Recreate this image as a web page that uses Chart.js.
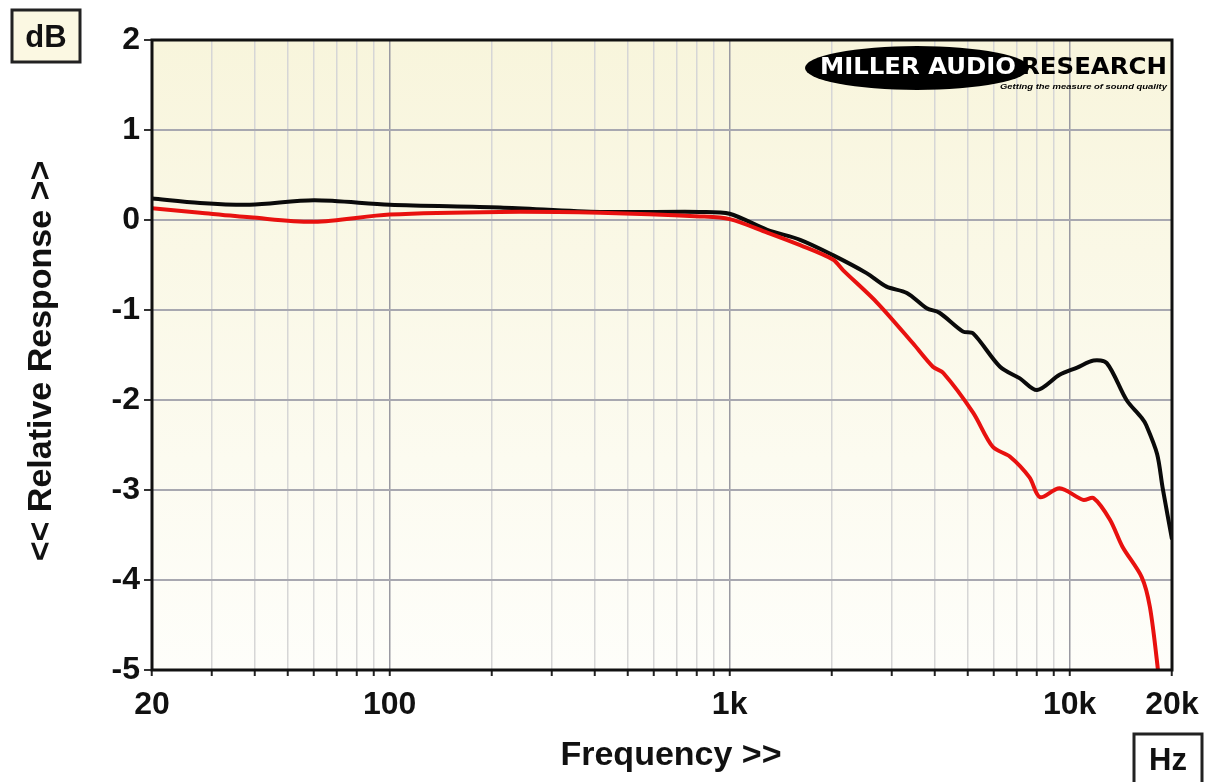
<!DOCTYPE html>
<html>
<head>
<meta charset="utf-8">
<script src="https://cdn.jsdelivr.net/npm/chart.js@4.4.1/dist/chart.umd.min.js"></script>
<style>
  html, body { margin: 0; padding: 0; background: #ffffff; }
  #wrap { width: 1209px; height: 782px; position: relative; }
</style>
</head>
<body>
<div id="wrap"><canvas id="chart" width="1209" height="782"></canvas></div>
<script>
// Frequency response data (Hz, dB)
const blackFreq = [20, 27.7, 38.8, 60, 100, 211, 416, 818, 1000, 1290, 1612, 2012, 2528, 2893, 3320, 3800, 4140, 4860, 5200, 6240, 7140, 8020, 9340, 10520, 11760, 12860, 14700, 16300, 16800, 18080, 18760, 20000];
const blackDb   = [0.24, 0.19, 0.17, 0.22, 0.17, 0.14, 0.09, 0.09, 0.07, -0.11, -0.22, -0.39, -0.59, -0.74, -0.81, -0.98, -1.03, -1.24, -1.26, -1.63, -1.76, -1.89, -1.72, -1.64, -1.56, -1.59, -2.0, -2.2, -2.28, -2.6, -2.97, -3.55];

const redFreq = [20, 27.7, 38.8, 60, 100, 211, 416, 818, 1000, 1290, 1612, 2012, 2158, 2716, 3460, 3960, 4250, 5200, 5940, 6680, 7620, 8180, 9340, 10960, 11760, 13140, 14300, 16300, 17220, 18160, 18600];
const redDb   = [0.13, 0.08, 0.03, -0.02, 0.06, 0.09, 0.08, 0.04, 0.01, -0.14, -0.28, -0.44, -0.56, -0.92, -1.37, -1.63, -1.7, -2.14, -2.52, -2.63, -2.86, -3.08, -2.98, -3.11, -3.09, -3.33, -3.63, -3.97, -4.3, -4.98, -5.4];

const xGrid = [20, 30, 40, 50, 60, 70, 80, 90, 100, 200, 300, 400, 500, 600, 700, 800, 900,
               1000, 2000, 3000, 4000, 5000, 6000, 7000, 8000, 9000, 10000, 20000];
const xLabels = { 20: '20', 100: '100', 1000: '1k', 10000: '10k', 20000: '20k' };
const majorX = [100, 1000, 10000];

const FONT = "'Liberation Sans', Arial, sans-serif";

function pts(xs, ys) {
    return xs.map((x, i) => ({ x: x, y: ys[i] }));
}

// draw text squeezed/stretched to a given width
function fitText(ctx, text, x, y, w) {
    const m = ctx.measureText(text).width;
    ctx.save();
    ctx.translate(x, y);
    ctx.scale(w / m, 1);
    ctx.fillText(text, 0, 0);
    ctx.restore();
}

// background, frame, logo and boxed labels
const decor = {
    id: 'decor',
    beforeDraw(chart) {
        const { ctx, chartArea: a } = chart;
        const g = ctx.createLinearGradient(0, a.top, 0, a.bottom);
        g.addColorStop(0, '#f8f5dc');
        g.addColorStop(1, '#fefefa');
        ctx.save();
        ctx.fillStyle = g;
        ctx.fillRect(a.left, a.top, a.right - a.left, a.bottom - a.top);
        ctx.restore();
    },
    afterDatasetsDraw(chart) {
        const { ctx, chartArea: a } = chart;
        ctx.save();
        // frame
        ctx.strokeStyle = '#111';
        ctx.lineWidth = 3;
        ctx.strokeRect(a.left, a.top, a.right - a.left, a.bottom - a.top);

        // logo
        ctx.fillStyle = '#000';
        ctx.beginPath();
        ctx.ellipse(917, 68, 112, 22, 0, 0, Math.PI * 2);
        ctx.fill();
        ctx.font = "bold 23px 'DejaVu Sans', sans-serif";
        ctx.textBaseline = 'middle';
        ctx.textAlign = 'left';
        ctx.fillStyle = '#fff';
        ctx.lineWidth = 1.5;
        ctx.strokeStyle = '#fff';
        fitText(ctx, 'MILLER AUDIO', 820, 68, 196);
        ctx.fillStyle = '#000';
        fitText(ctx, 'RESEARCH', 1021, 68, 146);
        ctx.font = "italic bold 8px " + FONT;
        fitText(ctx, 'Getting the measure of sound quality', 1000, 87, 167);

        // dB box
        ctx.fillStyle = '#fbf8e2';
        ctx.fillRect(12, 10, 68, 52);
        ctx.lineWidth = 3;
        ctx.strokeStyle = '#222';
        ctx.strokeRect(12, 10, 68, 52);
        ctx.fillStyle = '#111';
        ctx.font = "bold 31px " + FONT;
        ctx.textAlign = 'center';
        ctx.fillText('dB', 46, 38);

        // Hz box
        ctx.fillStyle = '#ffffff';
        ctx.fillRect(1134, 734, 68, 52);
        ctx.strokeRect(1134, 734, 68, 52);
        ctx.fillStyle = '#111';
        ctx.fillText('Hz', 1168, 761);

        // axis titles
        ctx.font = "bold 34px " + FONT;
        ctx.fillText('Frequency >>', 671, 756);
        ctx.translate(42, 361);
        ctx.rotate(-Math.PI / 2);
        ctx.fillText('<< Relative Response >>', 0, 0);
        ctx.restore();
    }
};

new Chart(document.getElementById('chart'), {
    type: 'scatter',
    data: {
        datasets: [
            {
                label: 'Red',
                data: pts(redFreq, redDb),
                showLine: true,
                borderColor: '#e8110f',
                borderWidth: 4,
                pointRadius: 0,
                tension: 0.3
            },
            {
                label: 'Black',
                data: pts(blackFreq, blackDb),
                showLine: true,
                borderColor: '#0a0a0a',
                borderWidth: 4,
                pointRadius: 0,
                tension: 0.3
            }
        ]
    },
    options: {
        responsive: false,
        animation: false,
        layout: { padding: { left: 0, right: 37, top: 40, bottom: 0 } },
        plugins: { legend: { display: false }, tooltip: { enabled: false } },
        scales: {
            x: {
                type: 'logarithmic',
                min: 20,
                max: 20000,
                afterBuildTicks(scale) {
                    scale.ticks = xGrid.map(v => ({ value: v }));
                },
                afterFit(scale) { scale.height = 112; },
                ticks: {
                    autoSkip: false,
                    maxRotation: 0,
                    padding: 10,
                    color: '#111',
                    font: { family: FONT, size: 32, weight: 'bold' },
                    callback: v => xLabels[v] || ''
                },
                grid: {
                    color: c => (c.tick && majorX.includes(c.tick.value)) ? '#9a9aa2' : '#d6d6d6',
                    lineWidth: 1.5,
                    tickLength: 6,
                    tickColor: '#222',
                    tickWidth: 2
                },
                border: { display: false }
            },
            y: {
                min: -5,
                max: 2,
                afterFit(scale) { scale.width = 152; },
                ticks: {
                    stepSize: 1,
                    padding: 4,
                    color: '#111',
                    font: { family: FONT, size: 32, weight: 'bold' }
                },
                grid: {
                    color: '#a8a8b0',
                    lineWidth: 2,
                    tickLength: 8,
                    tickColor: '#333',
                    tickWidth: 2
                },
                border: { display: false }
            }
        }
    },
    plugins: [decor]
});
</script>
</body>
</html>
